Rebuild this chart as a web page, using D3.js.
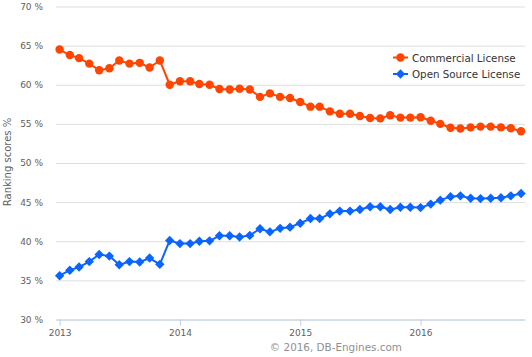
<!DOCTYPE html>
<html>
<head>
<meta charset="utf-8">
<script src="https://cdn.jsdelivr.net/npm/d3@7"></script>
<style>
  html, body { margin: 0; padding: 0; background: #fff; }
  svg { display: block; font-family: "DejaVu Sans", Verdana, sans-serif; }
</style>
</head>
<body>
<svg id="chart" width="532" height="357"></svg>
<script>
const months = [
  "2013-01","2013-02","2013-03","2013-04","2013-05","2013-06","2013-07","2013-08","2013-09","2013-10","2013-11","2013-12",
  "2014-01","2014-02","2014-03","2014-04","2014-05","2014-06","2014-07","2014-08","2014-09","2014-10","2014-11","2014-12",
  "2015-01","2015-02","2015-03","2015-04","2015-05","2015-06","2015-07","2015-08","2015-09","2015-10","2015-11","2015-12",
  "2016-01","2016-02","2016-03","2016-04","2016-05","2016-06","2016-07","2016-08","2016-09","2016-10","2016-11"
];
const commercial = [
  64.5, 63.8, 63.4, 62.7, 61.85, 62.1, 63.1, 62.7, 62.8, 62.2, 63.1, 60.0,
  60.45, 60.45, 60.1, 60.0, 59.45, 59.4, 59.5, 59.4, 58.45, 58.9, 58.45, 58.3,
  57.8, 57.2, 57.2, 56.6, 56.3, 56.3, 56.0, 55.75, 55.7, 56.1, 55.8, 55.8,
  55.85, 55.4, 55.0, 54.5, 54.4, 54.55, 54.65, 54.65, 54.55, 54.45, 54.05
];
const openSource = [
  35.6, 36.3, 36.7, 37.4, 38.3, 38.1, 37.0, 37.4, 37.35, 37.85, 37.05, 40.1,
  39.7, 39.7, 40.0, 40.05, 40.7, 40.7, 40.55, 40.75, 41.6, 41.2, 41.65, 41.8,
  42.3, 42.9, 42.9, 43.5, 43.85, 43.85, 44.05, 44.4, 44.4, 44.05, 44.35, 44.35,
  44.3, 44.75, 45.25, 45.7, 45.8, 45.5, 45.45, 45.5, 45.55, 45.8, 46.1
];
const seriesNames = ["Commercial License", "Open Source License"];
const seriesColors = ["#ff4500", "#0a64ff"];
const yTickValues = [30, 35, 40, 45, 50, 55, 60, 65, 70];
const xTickLabels = ["2013", "2014", "2015", "2016"];

const svg = d3.select("#chart");
const plotLeft = 56, plotRight = 525, plotTop = 6.5, plotBottom = 319.5;

const parseMonth = d3.utcParse("%Y-%m");
const dates = months.map(parseMonth);
const parseYear = d3.utcParse("%Y");

const x = d3.scaleUtc()
  .domain([new Date(Date.UTC(2012, 11, 21)), new Date(Date.UTC(2016, 10, 13))])
  .range([plotLeft, plotRight]);
const y = d3.scaleLinear().domain([30, 70]).range([plotBottom, plotTop]);

// Y axis with grid
const yAxis = d3.axisLeft(y)
  .tickValues(yTickValues)
  .tickSize(-(plotRight - plotLeft))
  .tickPadding(13)
  .tickFormat(d => d + " %");
const gy = svg.append("g").attr("transform", `translate(${plotLeft},0)`).call(yAxis);
gy.select(".domain").remove();
gy.selectAll(".tick line").attr("stroke", "#dedede").attr("stroke-width", 1);
gy.selectAll(".tick text").attr("fill", "#606060").attr("font-size", "9px")
  .attr("font-family", "DejaVu Sans, sans-serif");

// X axis
const xAxis = d3.axisBottom(x)
  .tickValues(xTickLabels.map(parseYear))
  .tickSize(6)
  .tickSizeOuter(0)
  .tickPadding(4)
  .tickFormat(d3.utcFormat("%Y"));
const gx = svg.append("g").attr("transform", `translate(0,${plotBottom})`).call(xAxis);
gx.select(".domain").attr("stroke", "#c0d0e0");
gx.selectAll(".tick line").attr("stroke", "#c0d0e0");
gx.selectAll(".tick text").attr("fill", "#606060").attr("font-size", "9px")
  .attr("font-family", "DejaVu Sans, sans-serif");

// Y title
svg.append("text")
  .attr("transform", "translate(11,162) rotate(-90)")
  .attr("text-anchor", "middle")
  .attr("font-size", "10px")
  .attr("fill", "#606060")
  .text("Ranking scores %");

// diamond symbol
const diamond = {
  draw(ctx, size) {
    const r = Math.sqrt(size) / 2;
    ctx.moveTo(0, -r); ctx.lineTo(r, 0); ctx.lineTo(0, r); ctx.lineTo(-r, 0); ctx.closePath();
  }
};
const markerPath = [
  d3.symbol().type(d3.symbolCircle).size(Math.PI * 4.2 * 4.2),
  d3.symbol().type(diamond).size(9.4 * 9.4)
];

const allSeries = [commercial, openSource];
const line = d3.line().x(d => x(d[0])).y(d => y(d[1]));

allSeries.forEach((vals, i) => {
  const pts = vals.map((v, j) => [dates[j], v]);
  const g = svg.append("g");
  g.append("path").datum(pts)
    .attr("d", line)
    .attr("fill", "none")
    .attr("stroke", seriesColors[i])
    .attr("stroke-width", 2)
    .attr("stroke-linejoin", "round")
    .attr("stroke-linecap", "round");
  g.selectAll("path.m").data(pts).enter().append("path")
    .attr("class", "m")
    .attr("d", markerPath[i])
    .attr("transform", d => `translate(${x(d[0])},${y(d[1])})`)
    .attr("fill", seriesColors[i]);
});

// Legend
const legend = svg.append("g");
seriesNames.forEach((name, i) => {
  const ly = 57.5 + i * 16.5;
  const item = legend.append("g");
  item.append("line").attr("x1", 393).attr("x2", 408).attr("y1", ly).attr("y2", ly)
    .attr("stroke", seriesColors[i]).attr("stroke-width", 2);
  item.append("path").attr("d", markerPath[i]).attr("transform", `translate(400.5,${ly})`)
    .attr("fill", seriesColors[i]);
  item.append("text").attr("x", 412).attr("y", ly + 4)
    .attr("font-size", "10.3px").attr("fill", "#333333").text(name);
});

// Credits
svg.append("text")
  .attr("x", 402).attr("y", 351)
  .attr("text-anchor", "end")
  .attr("font-size", "10.4px")
  .attr("fill", "#909090")
  .text("\u00A9 2016, DB-Engines.com");
</script>
</body>
</html>
